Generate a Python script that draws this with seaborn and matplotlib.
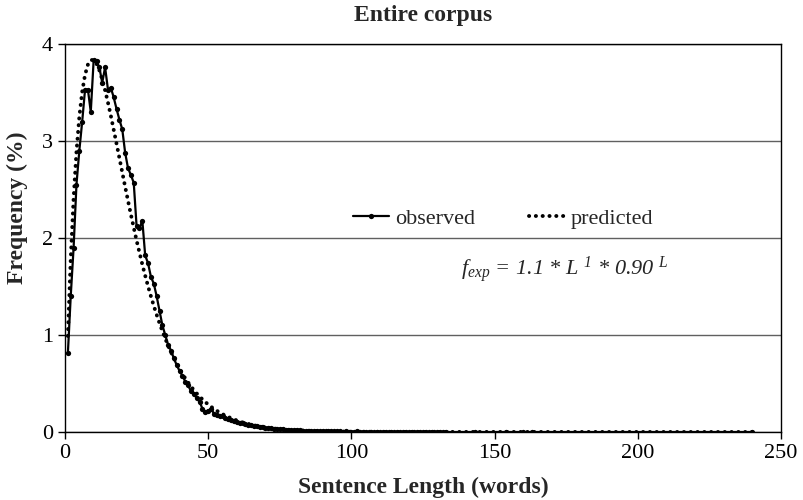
import matplotlib
matplotlib.use("Agg")
import matplotlib.pyplot as plt
import seaborn as sns
import pandas as pd

# ---- data ----
lengths = list(range(1, 134)) + [143, 154, 160, 163, 240]

observed = [
    0.81, 1.40, 1.90, 2.55, 2.90, 3.20, 3.53, 3.53, 3.30, 3.83,
    3.82, 3.76, 3.60, 3.76, 3.53, 3.55, 3.45, 3.33, 3.22, 3.12,
    2.88, 2.72, 2.65, 2.57, 2.12, 2.10, 2.18, 1.82, 1.74, 1.60,
    1.53, 1.40, 1.25, 1.10, 1.00, 0.90, 0.84, 0.76, 0.69, 0.63,
    0.58, 0.52, 0.48, 0.42, 0.39, 0.35, 0.31, 0.24, 0.21, 0.22,
    0.24, 0.19, 0.18, 0.17, 0.16, 0.14, 0.13, 0.12, 0.11, 0.10,
    0.09, 0.09, 0.08, 0.07, 0.07, 0.06, 0.06, 0.05, 0.05, 0.04,
    0.04, 0.04, 0.03, 0.03, 0.03, 0.03, 0.02, 0.02, 0.02, 0.02,
    0.02, 0.02, 0.01, 0.01, 0.01, 0.01, 0.01, 0.01, 0.01, 0.01,
    0.01, 0.01, 0.01, 0.01, 0.01, 0.01, 0.00, 0.01, 0.00, 0.00,
    0.00, 0.01, 0.00, 0.00, 0.00, 0.00, 0.00, 0.00, 0.00, 0.00,
    0.00, 0.00, 0.00, 0.00, 0.00, 0.00, 0.00, 0.00, 0.00, 0.00,
    0.00, 0.00, 0.00, 0.00, 0.00, 0.00, 0.00, 0.00, 0.00, 0.00,
    0.00, 0.00, 0.00,
    0.00, 0.00, 0.00, 0.00, 0.00,
]

predicted = [
    0.990, 1.782, 2.406, 2.887, 3.248, 3.507, 3.683, 3.788, 3.835, 3.835,
    3.797, 3.728, 3.635, 3.523, 3.397, 3.261, 3.119, 2.972, 2.823, 2.675,
    2.528, 2.383, 2.242, 2.106, 1.974, 1.848, 1.727, 1.612, 1.503, 1.399,
    1.301, 1.209, 1.122, 1.040, 0.964, 0.892, 0.825, 0.763, 0.705, 0.650,
    0.600, 0.553, 0.510, 0.469, 0.432, 0.397, 0.366, 0.336, 0.309, 0.283,
    0.260, 0.239, 0.219, 0.201, 0.184, 0.169, 0.155, 0.142, 0.130, 0.119,
    0.109, 0.099, 0.091, 0.083, 0.076, 0.069, 0.063, 0.058, 0.053, 0.048,
    0.044, 0.040, 0.037, 0.033, 0.031, 0.028, 0.025, 0.023, 0.021, 0.019,
    0.018, 0.016, 0.015, 0.013, 0.012, 0.011, 0.010, 0.009, 0.008, 0.008,
    0.007, 0.006, 0.006, 0.005, 0.005, 0.004, 0.004, 0.003, 0.003, 0.003,
    0.002, 0.002, 0.002, 0.002, 0.002, 0.002, 0.002, 0.002, 0.002, 0.002,
    0.001, 0.001, 0.001, 0.001, 0.001, 0.001, 0.001, 0.001, 0.001, 0.001,
    0.000, 0.000, 0.000, 0.000, 0.000, 0.000, 0.000, 0.000, 0.000, 0.000,
    0.000, 0.000, 0.000,
    0.000, 0.000, 0.000, 0.000, 0.000,
]

x_ticks = [0, 50, 100, 150, 200, 250]
y_ticks = [0, 1, 2, 3, 4]

df = pd.DataFrame({"L": lengths, "observed": observed, "predicted": predicted})

# ---- style ----
sns.set_theme(style="white")
plt.rcParams["font.family"] = ["Liberation Serif", "DejaVu Serif"]
plt.rcParams["mathtext.fontset"] = "custom"
plt.rcParams["mathtext.rm"] = "Liberation Serif:italic"
plt.rcParams["mathtext.it"] = "Liberation Serif:italic"
plt.rcParams["mathtext.bf"] = "Liberation Serif:bold"
plt.rcParams["mathtext.default"] = "it"

fig = plt.figure(figsize=(8.04, 5.00), dpi=100)
ax = fig.add_axes([65 / 804, 1 - 432 / 500, 716 / 804, 388 / 500])

sns.lineplot(data=df, x="L", y="predicted", ax=ax, color="black",
             linestyle=(0, (0.05, 1.7)), linewidth=2.8,
             dash_capstyle="round", label="predicted", zorder=2)
sns.lineplot(data=df, x="L", y="observed", ax=ax, color="black",
             linewidth=1.6, marker="o", markersize=3.8,
             markeredgewidth=0, label="observed", zorder=3)

ax.set_xlim(0, 250)
ax.set_ylim(0, 4)
ax.set_xticks(x_ticks)
ax.set_yticks(y_ticks)
ax.set_xlabel("")
ax.set_ylabel("")
ax.yaxis.grid(True, color="#606060", linewidth=1)
ax.xaxis.grid(False)
for s in ax.spines.values():
    s.set_color("black")
    s.set_linewidth(1)
ax.tick_params(axis="both", direction="out", length=5, width=1,
               colors="black", labelsize=16, bottom=True, left=True)

# legend: observed first
handles, labels = ax.get_legend_handles_labels()
order = [labels.index("observed"), labels.index("predicted")]
ax.legend([handles[i] for i in order], [labels[i] for i in order],
          ncol=2, frameon=False, loc="center",
          bbox_to_anchor=(0.612, 0.549), fontsize=16,
          handlelength=1.6, handletextpad=0.3, columnspacing=2.4)

ax.text(0.698, 0.4175,
        r"$f_{exp}$ = 1.1 * L $^{1}$ * 0.90 $^{L}$",
        transform=ax.transAxes, ha="center", va="center", fontsize=16,
        fontstyle="italic")

fig.text(423 / 804, 1 - 21 / 500, "Entire corpus", ha="center",
         va="baseline", fontsize=17, fontweight="bold")
fig.text(423 / 804, 1 - 493 / 500, "Sentence Length (words)", ha="center",
         va="baseline", fontsize=17, fontweight="bold")
fig.text(17 / 804, 1 - 208 / 500, "Frequency (%)", ha="center",
         va="center", rotation=90, fontsize=17, fontweight="bold")

fig.savefig("out.png", dpi=100)
